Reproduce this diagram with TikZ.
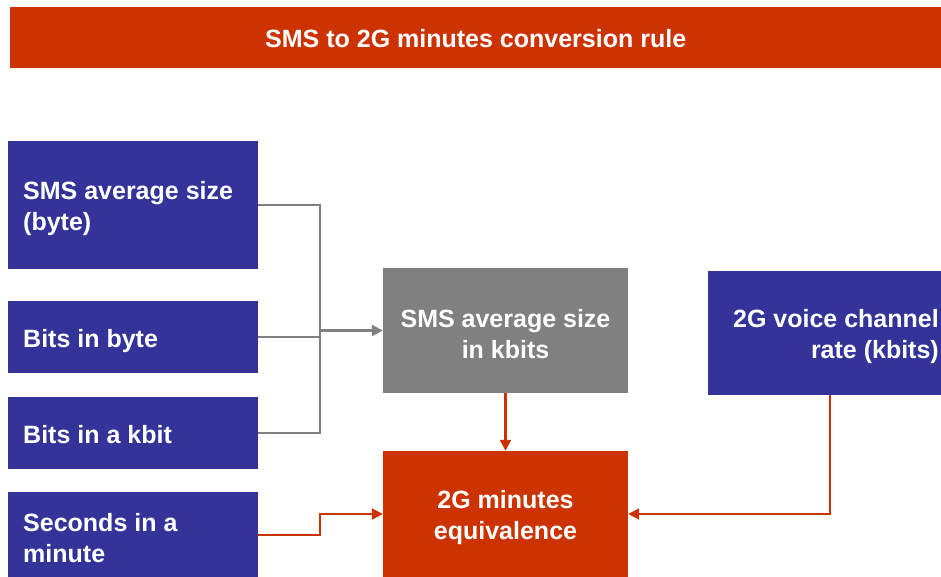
\documentclass[tikz,border=0pt]{standalone}
\usepackage{fontspec}
\setmainfont{Liberation Sans}
\usetikzlibrary{arrows.meta}
\definecolor{boxblue}{HTML}{333399}
\definecolor{boxred}{HTML}{CC3300}
\definecolor{boxgray}{HTML}{808080}
\tikzset{
  lbl/.style={font=\fontsize{25}{31}\selectfont\bfseries, text=white, inner sep=0pt},
  bluebox/.style={fill=boxblue, minimum width=250pt, inner sep=0pt, anchor=west},
  midbox/.style={minimum width=245pt, inner sep=0pt},
  grayline/.style={draw=boxgray, line width=2.2pt},
  redline/.style={draw=boxred, line width=2.2pt},
  tip/.style={-{Triangle[length=11pt,width=11pt]}}
}
\begin{document}
\begin{tikzpicture}[x=1pt,y=-1pt]
\useasboundingbox (0,0) rectangle (941,576);
\fill[white] (0,0) rectangle (941,576);
\node[fill=boxred, minimum width=931pt, minimum height=61pt, inner sep=0pt, anchor=west] (title) at (10,37.5) {};
\node[lbl, yshift=-1pt] (titletext) at (title.center) {SMS to 2G minutes conversion rule};
\node[bluebox, minimum height=128pt] (b1) at (8,205) {};
\node[bluebox, minimum height=72pt] (b2) at (8,337) {};
\node[bluebox, minimum height=72pt] (b3) at (8,433) {};
\node[bluebox, minimum height=86pt] (b4) at (8,535) {};
\node[midbox, fill=boxgray, minimum height=125pt] (gray) at (505.5,330.5) {};
\node[midbox, fill=boxred, minimum height=126pt] (red) at (505.5,514) {};
\node[fill=boxblue, minimum width=242pt, minimum height=124pt, inner sep=0pt, anchor=west] (rate) at (708,333) {};
\node[lbl, align=left, anchor=west, yshift=-3.5pt] (t1) at ([xshift=15pt]b1.west) {SMS average size\\(byte)};
\node[lbl, anchor=west, yshift=-4pt] (t2) at ([xshift=15pt]b2.west) {\strut Bits in byte};
\node[lbl, anchor=west, yshift=-4pt] (t3) at ([xshift=15pt]b3.west) {\strut Bits in a kbit};
\node[lbl, align=left, anchor=west, yshift=-3.5pt] (t4) at ([xshift=15pt]b4.west) {Seconds in a\\minute};
\node[lbl, align=center, yshift=-3.5pt] (tg) at (gray.center) {SMS average size\\in kbits};
\node[lbl, align=center, yshift=-3.5pt] (tr) at (red.center) {2G minutes\\equivalence};
\node[lbl, align=right, anchor=east, yshift=-3.5pt] (trate) at (939,333) {2G voice channel\\rate (kbits)};
\coordinate (jx) at (320,0);
\coordinate (rx) at (830,0);
\draw[grayline] (b1.east) -- (b1.east -| jx) -- (b3.east -| jx) -- (b3.east);
\draw[grayline] (b2.east) -- (b2.east -| jx);
\draw[grayline, tip] (gray.west -| jx) -- (gray.west);
\draw[redline, tip] (b4.east) -- (b4.east -| jx) -- (red.west -| jx) -- (red.west);
\draw[redline, tip] (gray.south) -- (red.north);
\draw[redline, tip] (rate.south -| rx) -- (red.east -| rx) -- (red.east);
\end{tikzpicture}
\end{document}
